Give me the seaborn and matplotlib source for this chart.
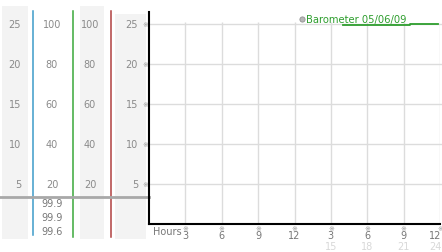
import matplotlib
matplotlib.use("Agg")
import matplotlib.pyplot as plt
import matplotlib.transforms as mtrans
from matplotlib.patches import Rectangle
import seaborn as sns
import pandas as pd

# ---- data ----
left_scale = [25, 20, 15, 10, 5]
pct_scale_a = [100, 80, 60, 40, 20]
pct_scale_b = [100, 80, 60, 40, 20]
right_scale = [25, 20, 15, 10, 5]
readings = ["99.9", "99.9", "99.6"]
hour_ticks = [3, 6, 9, 12, 15, 18, 21, 24]
hour_labels = ["3", "6", "9", "12", "3", "6", "9", "12"]
hour_labels2 = ["", "", "", "", "15", "18", "21", "24"]
baro_hours = [16, 21.5, 21.5, 23.8]
baro_values = [99.6, 99.6, 99.9, 99.9]
legend_label = "Barometer 05/06/09"

df = pd.DataFrame({"hour": baro_hours, "level": [v / 4 for v in baro_values]})

W, H = 442, 253
fig = plt.figure(figsize=(W / 100, H / 100), dpi=100)
fig.patch.set_facecolor("white")


def fx(px):
    return px / W


def fy(py):
    return 1 - py / H


# overlay in pixel coordinates for the side panel
ov = fig.add_axes([0, 0, 1, 1], zorder=0)
ov.set_xlim(0, W)
ov.set_ylim(H, 0)
ov.axis("off")

ax = fig.add_axes([fx(149), fy(225), fx(440) - fx(149), fy(13) - fy(225)], zorder=1)
ax.patch.set_alpha(0)
ax.set_xlim(0, 24)
ax.set_ylim(0, 26.5)

# side panel bands
band = "#f3f3f3"
ov.add_patch(Rectangle((2, 7), 26, 233, color=band, lw=0))
ov.add_patch(Rectangle((80, 7), 24, 233, color=band, lw=0))
ov.add_patch(Rectangle((115, 15), 31, 225, color=band, lw=0))
ov.plot([33, 33], [12, 236], color="#3d9bc9", lw=1.1)
ov.plot([72.5, 72.5], [12, 238], color="#3aa83a", lw=1.1)
ov.plot([111, 111], [12, 238], color="#b04040", lw=1.1)
ov.plot([0, 149], [197.5, 197.5], color="#a8a8a8", lw=2.0, zorder=3)

blend = mtrans.blended_transform_factory(ov.transData, ax.transData)
lab = "#8a8a8a"
fs = 7
for v, a, b, r in zip(left_scale, pct_scale_a, pct_scale_b, right_scale):
    ax_y = v
    ov.text(21, ax_y, str(v), transform=blend, ha="right", va="center", fontsize=fs, color=lab)
    ov.text(52, ax_y, str(a), transform=blend, ha="center", va="center", fontsize=fs, color=lab)
    ov.text(90, ax_y, str(b), transform=blend, ha="center", va="center", fontsize=fs, color=lab)
    ov.text(138, ax_y, str(r), transform=blend, ha="right", va="center", fontsize=fs, color=lab)
    ov.text(145, ax_y, "\u203b", transform=blend, ha="center", va="center", fontsize=5, color="#999999")

for i, t in enumerate(readings):
    ov.text(52, 204 + 14 * i, t, ha="center", va="center", fontsize=fs, color="#777777")

# grid
grid_c = "#dcdcdc"
ax.hlines(left_scale, 0, 24.3, color=grid_c, lw=1, zorder=0, clip_on=False)
ax.vlines(hour_ticks, 0, 25.2, color=grid_c, lw=1, zorder=0)

# data line
sns.lineplot(data=df, x="hour", y="level", ax=ax, color="#2e9e2e", lw=1.3,
             estimator=None, sort=False, legend=False)

for s in ["top", "right"]:
    ax.spines[s].set_visible(False)
for s in ["left", "bottom"]:
    ax.spines[s].set_color("black")
    ax.spines[s].set_linewidth(1.5)
ax.set_xticks([])
ax.set_yticks([])
ax.set_xlabel("")
ax.set_ylabel("")

# x tick labels
xblend = mtrans.blended_transform_factory(ax.transData, ov.transData)
for h, l1, l2 in zip(hour_ticks, hour_labels, hour_labels2):
    ha = "right" if h == hour_ticks[-1] else "center"
    xo = h + 0.12 if h == hour_ticks[-1] else h
    ov.text(h, 229.5, "\u203b", transform=xblend, ha="center", va="center", fontsize=5, color="#999999")
    ov.text(xo, 236, l1, transform=xblend, ha=ha, va="center", fontsize=fs, color="#777777")
    if l2:
        ov.text(xo, 247, l2, transform=xblend, ha=ha, va="center", fontsize=fs, color="#d8d8d8")
ov.text(153, 232, "Hours", ha="left", va="center", fontsize=fs, color="#777777")

# legend
ov.scatter([301.5], [19.5], s=14, color="#b8b8b8", edgecolor="#909090", lw=0.6, zorder=5)
ov.text(305.5, 19.5, legend_label, ha="left", va="center", fontsize=7.2, color="#2e9e2e")

fig.savefig("out.png", dpi=100)
